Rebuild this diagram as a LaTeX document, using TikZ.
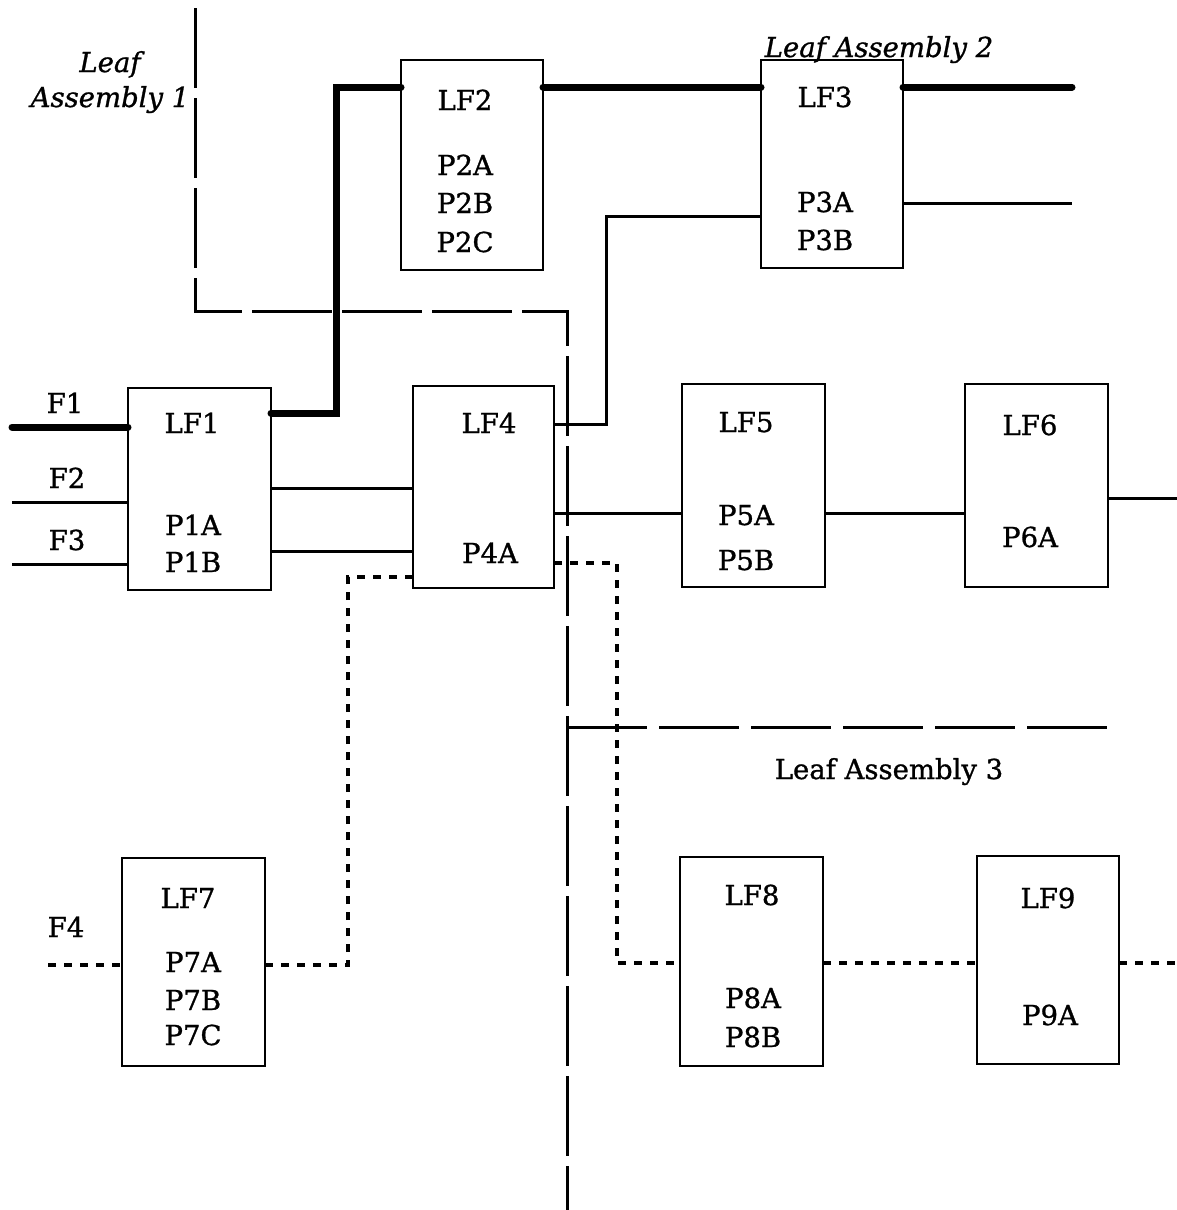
\documentclass[tikz,border=0pt]{standalone}
\usepackage{fontspec}
\setmainfont{DejaVu Serif}[FakeBold=1]
\begin{document}
\begin{tikzpicture}[x=1pt,y=-1pt,
  box/.style={draw,line width=2.8pt,rectangle,inner sep=0pt,outer sep=0pt},
  lbl/.style={inner sep=0pt,anchor=base,font=\fontsize{27.5}{33}\selectfont},
  ilbl/.style={inner sep=0pt,anchor=base,font=\fontsize{27.5}{33}\selectfont\itshape},
  heavy/.style={line width=7pt,line cap=round,line join=miter},
  wire/.style={line width=3pt},
  dotwire/.style={line width=3.5pt,dash pattern=on 8pt off 8pt},
  bound/.style={line width=3pt,dash pattern=on 80pt off 10pt},
  boundb/.style={line width=3pt,dash pattern=on 80pt off 12pt}]
\useasboundingbox (0,0) rectangle (1177,1210);

% boxes
\node[box,minimum width=143pt,minimum height=202pt] (lf1) at (199.5,489) {};
\node[box,minimum width=142pt,minimum height=210pt] (lf2) at (472,165) {};
\node[box,minimum width=142pt,minimum height=208pt] (lf3) at (832,164) {};
\node[box,minimum width=141pt,minimum height=202pt] (lf4) at (483.5,487) {};
\node[box,minimum width=143pt,minimum height=203pt] (lf5) at (753.5,485.5) {};
\node[box,minimum width=143pt,minimum height=203pt] (lf6) at (1036.5,485.5) {};
\node[box,minimum width=143pt,minimum height=208pt] (lf7) at (193.5,962) {};
\node[box,minimum width=143pt,minimum height=209pt] (lf8) at (751.5,961.5) {};
\node[box,minimum width=142pt,minimum height=208pt] (lf9) at (1048,960) {};

% free ends
\coordinate (f1end) at (12,427);
\coordinate (f2end) at (12,502);
\coordinate (f3end) at (12,564);
\coordinate (f4end) at (48,965);
\coordinate (lf3heavyend) at (1072,87);
\coordinate (lf3wireend) at (1072,203);
\coordinate (lf6end) at (1177,498);
\coordinate (lf9end) at (1177,963);
\coordinate (b1top) at (195,8);
\coordinate (b1c1) at (195,311);
\coordinate (b1c2) at (567,311);
\coordinate (b1bot) at (567,1210);
\coordinate (b3start) at (567,727);
\coordinate (b3end) at (1107,727);

% assembly boundaries
\draw[bound] (b1top) -- (b1c1) -- (b1c2) -- (b1bot);
\draw[boundb] (b3start) -- (b3end);

% heavy path
\draw[heavy] (f1end) -- (lf1.west |- f1end);
\draw[heavy] (lf1.east |- 0,413) -- (336,413) -- (336,87) -- (lf2.west |- 0,87);
\draw[heavy] (lf2.east |- 0,87) -- (lf3.west |- 0,87);
\draw[heavy] (lf3.east |- lf3heavyend) -- (lf3heavyend);

% thin wires
\draw[wire] (f2end) -- (lf1.west |- f2end);
\draw[wire] (f3end) -- (lf1.west |- f3end);
\draw[wire] (lf1.east |- 0,488) -- (lf4.west |- 0,488);
\draw[wire] (lf1.east |- 0,551) -- (lf4.west |- 0,551);
\draw[wire] (lf4.east |- 0,424) -- (606,424) -- (606,216) -- (lf3.west |- 0,216);
\draw[wire] (lf3.east |- lf3wireend) -- (lf3wireend);
\draw[wire] (lf4.east |- 0,513) -- (lf5.west |- 0,513);
\draw[wire] (lf5.east |- 0,513) -- (lf6.west |- 0,513);
\draw[wire] (lf6.east |- lf6end) -- (lf6end);

% dotted wires
\draw[dotwire] (f4end) -- (lf7.west |- f4end);
\draw[dotwire] (lf7.east |- 0,965) -- (348,965) -- (348,577) -- (lf4.west |- 0,577);
\draw[dotwire] (lf4.east |- 0,563) -- (617,563) -- (617,963) -- (lf8.west |- 0,963);
\draw[dotwire] (lf8.east |- 0,963) -- (lf9.west |- 0,963);
\draw[dotwire] (lf9.east |- lf9end) -- (lf9end);

% labels
\node[lbl] (t-lf1) at (192,433) {LF1};
\node[lbl] (t-p1a) at (193,535) {P1A};
\node[lbl] (t-p1b) at (193,572) {P1B};
\node[lbl] (t-lf2) at (465,110) {LF2};
\node[lbl] (t-p2a) at (465,175) {P2A};
\node[lbl] (t-p2b) at (465,213) {P2B};
\node[lbl] (t-p2c) at (465,252) {P2C};
\node[lbl] (t-lf3) at (825,107) {LF3};
\node[lbl] (t-p3a) at (825,212) {P3A};
\node[lbl] (t-p3b) at (825,250) {P3B};
\node[lbl] (t-lf4) at (489,433) {LF4};
\node[lbl] (t-p4a) at (490,563) {P4A};
\node[lbl] (t-lf5) at (746,432) {LF5};
\node[lbl] (t-p5a) at (746,525) {P5A};
\node[lbl] (t-p5b) at (746,570) {P5B};
\node[lbl] (t-lf6) at (1030,435) {LF6};
\node[lbl] (t-p6a) at (1030,547) {P6A};
\node[lbl] (t-lf7) at (188,908) {LF7};
\node[lbl] (t-p7a) at (193,972) {P7A};
\node[lbl] (t-p7b) at (193,1010) {P7B};
\node[lbl] (t-p7c) at (193,1045) {P7C};
\node[lbl] (t-lf8) at (752,905) {LF8};
\node[lbl] (t-p8a) at (753,1008) {P8A};
\node[lbl] (t-p8b) at (753,1047) {P8B};
\node[lbl] (t-lf9) at (1048,908) {LF9};
\node[lbl] (t-p9a) at (1050,1025) {P9A};
\node[lbl] (t-f1) at (65,413) {F1};
\node[lbl] (t-f2) at (67,488) {F2};
\node[lbl] (t-f3) at (67,550) {F3};
\node[lbl] (t-f4) at (66,937) {F4};
\node[ilbl] (t-la1a) at (110,72) {Leaf};
\node[ilbl] (t-la1b) at (110,107) {Assembly 1};
\node[ilbl] (t-la2) at (879,57) {Leaf Assembly 2};
\node[lbl] (t-la3) at (889,779) {Leaf Assembly 3};
\end{tikzpicture}
\end{document}
